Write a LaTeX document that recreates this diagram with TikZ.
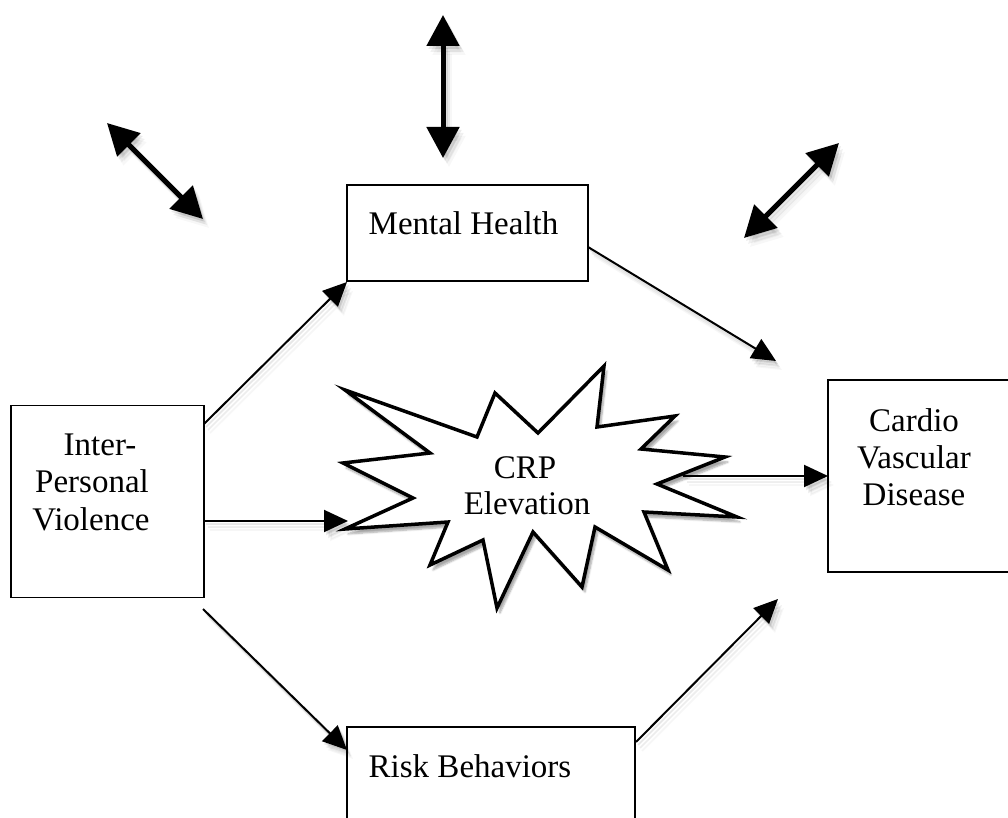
\documentclass[tikz,border=0pt]{standalone}
\usepackage{fontspec}
\setmainfont{Liberation Serif}
\usetikzlibrary{arrows.meta,shadows.blur}
\tikzset{
  box/.style={draw=black, line width=1.3pt, fill=white, inner sep=0pt},
  lbl/.style={inner sep=0pt, anchor=base, font=\fontsize{33}{38}\selectfont},
  conn/.style={line width=2pt, -{Triangle[length=24pt,width=22pt]}},
  dbl/.style={line width=5pt, {Triangle[length=31pt,width=32pt]}-{Triangle[length=31pt,width=32pt]}},
  burst/.style={draw=black, line width=3.5pt, line join=miter, fill=white,
    blur shadow={shadow xshift=3pt, shadow yshift=-5pt, shadow blur steps=6, shadow opacity=35}},
}
\newcommand\shline[3]{%
  \foreach \dx/\dy/\o in {2/3/0.08,4/6/0.06,6/9/0.03}{%
    \begin{scope}[transform canvas={shift={(\dx pt,-\dy pt)}}]
      \draw[#1, draw=black, fill=black, opacity=\o] (#2) -- (#3);
    \end{scope}}%
  \draw[#1, draw=black, fill=black] (#2) -- (#3);}
\begin{document}
\begin{tikzpicture}[x=1pt,y=-1pt]
\useasboundingbox (0,0) rectangle (1008,818);

% boxes
\node[box, minimum width=193pt, minimum height=192pt] (ipv) at (107.5,501.5) {};
\node[box, minimum width=241pt, minimum height=96pt] (mh) at (467.5,233) {};
\node[box, minimum width=190pt, minimum height=192pt] (cvd) at (923,476) {};
\node[box, minimum width=288pt, minimum height=120pt] (rb) at (491,787) {};

% texts
\node[lbl] (ipv1) at (100,455) {Inter-};
\node[lbl] (ipv2) at (92,492) {Personal};
\node[lbl] (ipv3) at (91,530) {Violence};
\node[lbl] (mht) at (463.5,234) {Mental Health};
\node[lbl] (cvd1) at (914,431) {Cardio};
\node[lbl] (cvd2) at (914,468) {Vascular};
\node[lbl] (cvd3) at (914,505) {Disease};
\node[lbl] (rbt) at (470,777) {Risk Behaviors};

% starburst
\path[burst] (345,390) -- (477,437) -- (495,393) -- (538,433) -- (604,366) -- (597,427)
  -- (675,416) -- (641,449) -- (725,457) -- (657,484) -- (737,517) -- (644,512)
  -- (668,570) -- (595,527) -- (582,587) -- (533,532) -- (497,608) -- (483,540)
  -- (430,565) -- (448,522) -- (345,529) -- (413,498) -- (343,463) -- (430,453) -- cycle;
\node[lbl] (crp1) at (525,478) {CRP};
\node[lbl] (crp2) at (527,514) {Elevation};

% connector end points
\coordinate (a1) at (204,424);  \coordinate (a2) at (347,282);
\coordinate (b1) at (588,247);  \coordinate (b2) at (776,361);
\coordinate (c1) at (204,521);  \coordinate (c2) at (348,521);
\coordinate (d1) at (683,476);  \coordinate (d2) at (828,476);
\coordinate (e1) at (203,609);  \coordinate (e2) at (347,750);
\coordinate (f1) at (636,742);  \coordinate (f2) at (778,599);

\shline{conn}{a1}{a2}
\shline{conn}{b1}{b2}
\shline{conn}{c1}{c2}
\shline{conn}{d1}{d2}
\shline{conn}{e1}{e2}
\shline{conn}{f1}{f2}

% double arrows
\coordinate (u1) at (443,15);  \coordinate (u2) at (443,158);
\coordinate (l1) at (107,123); \coordinate (l2) at (203,219);
\coordinate (r1) at (839,143); \coordinate (r2) at (744,238);
\shline{dbl}{u1}{u2}
\shline{dbl}{l1}{l2}
\shline{dbl}{r1}{r2}
\end{tikzpicture}
\end{document}
